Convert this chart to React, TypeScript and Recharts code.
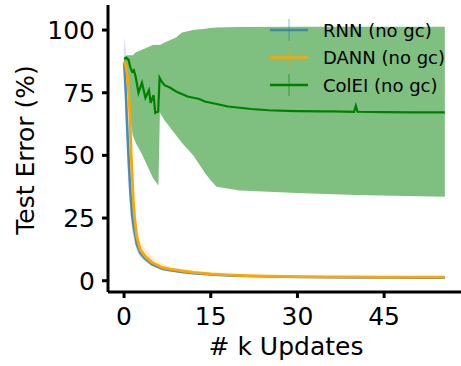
import { ComposedChart, Area, Line, XAxis, YAxis, Label } from 'recharts';

// RNN (no gc)
const rnnX = [0, 0.1, 0.3, 0.5, 0.8, 1.1, 1.4, 1.7, 2.2, 2.8, 3.7, 4.8, 6.6, 8, 10, 12, 15, 18, 21, 25, 30, 35, 40, 45, 50, 55.5];
const rnnMean = [87, 83, 75, 63, 48, 35, 26, 21, 14.5, 11, 8.7, 6.6, 4.8, 4.2, 3.5, 3.0, 2.5, 2.1, 1.85, 1.65, 1.5, 1.4, 1.3, 1.25, 1.2, 1.2];
const rnnLow = [84, 76, 64, 50, 36, 26, 20, 16.5, 12, 9.3, 7.5, 5.8, 4.2, 3.7, 3.1, 2.6, 2.2, 1.8, 1.6, 1.4, 1.25, 1.15, 1.05, 1.0, 0.95, 0.95];
const rnnHigh = [93, 97, 92, 80, 64, 48, 35, 27, 18, 13.5, 10.5, 8, 5.8, 5.0, 4.2, 3.6, 3.0, 2.5, 2.2, 2.0, 1.8, 1.7, 1.6, 1.55, 1.5, 1.5];

// DANN (no gc)
const dannX = [0, 0.25, 0.5, 0.75, 1, 1.2, 1.4, 1.6, 1.8, 2.2, 2.8, 3.7, 4.8, 6.6, 8, 10, 12, 15, 18, 21, 25, 30, 35, 40, 45, 50, 55.5];
const dannMean = [87.5, 86, 83, 77, 67, 52, 42, 32, 25.5, 17.5, 12.3, 9.5, 7.3, 5.3, 4.6, 3.9, 3.3, 2.7, 2.3, 2.0, 1.8, 1.65, 1.55, 1.5, 1.45, 1.4, 1.4];
const dannLow = [85, 83, 78, 70, 58, 44, 35, 26, 21, 14.5, 10.3, 8, 6.2, 4.6, 4.0, 3.4, 2.9, 2.35, 2.0, 1.75, 1.55, 1.4, 1.3, 1.25, 1.2, 1.15, 1.15];
const dannHigh = [90, 89, 87, 83, 75, 61, 50, 39, 31, 22, 16, 12.5, 9.5, 6.8, 5.8, 4.8, 4.0, 3.2, 2.7, 2.4, 2.2, 2.0, 1.9, 1.8, 1.75, 1.7, 1.7];

// ColEI (no gc)
const colX = [0, 0.4, 0.8, 1.1, 1.4, 1.7, 2.0, 2.5, 3.1, 3.7, 4.3, 4.6, 5.1, 5.4, 5.9, 6.15, 6.5, 7, 8, 9, 10, 11, 12, 13, 14, 16, 18, 20, 22, 25, 28, 30, 34, 36, 39.8, 40.1, 40.4, 45, 50, 55.5];
const colMean = [88.5, 89, 88, 85, 83.4, 84, 81.4, 75, 79, 73, 76, 71, 74, 67, 67.5, 81, 79.5, 78, 77, 75.5, 74.5, 73.5, 73, 72.5, 71.5, 70.5, 69.5, 69, 68.5, 68, 67.8, 67.7, 67.6, 67.6, 67.4, 69.8, 67.4, 67.3, 67.2, 67.2];
const colBandX = [0, 0.5, 1, 1.5, 2, 3, 4, 5, 5.95, 6.2, 7, 8, 9, 10, 12, 14, 15, 16, 20, 30, 40, 55.5];
const colLow = [88, 80, 66, 58, 55, 51, 46, 41, 38, 67, 64, 61, 58, 55, 50, 43, 40, 37.5, 36, 35, 34.2, 33.5];
const colHigh = [89, 90, 90, 90, 91, 92, 93, 94, 94, 94, 95, 96, 97, 99, 100, 100.5, 100.8, 101, 101.2, 101.3, 101.3, 101.3];

const xTicks = [0, 15, 30, 45];
const yTicks = [0, 25, 50, 75, 100];

const legendItems = [
    { name: 'RNN (no gc)', color: '#1f77b4', opacity: 0.7, bar: 'rgba(31,119,180,0.25)' },
    { name: 'DANN (no gc)', color: 'orange', opacity: 1, bar: 'rgba(255,165,0,0.25)' },
    { name: 'ColEI (no gc)', color: 'green', opacity: 1, bar: 'rgba(0,128,0,0.3)' },
];

const line = (xs: number[], ys: number[]) => xs.map((x, i) => ({ x, y: ys[i] }));
const band = (xs: number[], lo: number[], hi: number[]) => xs.map((x, i) => ({ x, range: [lo[i], hi[i]] }));

const font = 'DejaVu Sans';
const tickStyle = { fill: '#000', fontSize: 25, fontFamily: font };

export default function App() {
    return (
        <div style={{ position: 'absolute', left: 0, top: 0, width: 461, height: 366, background: '#fff' }}>
            <ComposedChart width={461} height={366} margin={{ top: 5, right: 0, left: 0, bottom: 0 }}>
                <XAxis
                    type="number"
                    dataKey="x"
                    domain={[-2.78, 58.3]}
                    ticks={xTicks}
                    allowDataOverflow
                    height={74}
                    tickSize={6}
                    tickMargin={9}
                    tick={tickStyle}
                    tickLine={{ stroke: '#000', strokeWidth: 3 }}
                    axisLine={{ stroke: '#000', strokeWidth: 3 }}
                >
                    <Label
                        content={() => (
                            <text x={286} y={346} textAnchor="middle" dominantBaseline="central" fontSize={25} fontFamily={font} fill="#000">
                                # k Updates
                            </text>
                        )}
                    />
                </XAxis>
                <YAxis
                    type="number"
                    domain={[-4.5, 110]}
                    ticks={yTicks}
                    allowDataOverflow
                    width={108}
                    tickSize={6}
                    tickMargin={7}
                    tick={tickStyle}
                    tickLine={{ stroke: '#000', strokeWidth: 3 }}
                    axisLine={{ stroke: '#000', strokeWidth: 3 }}
                >
                    <Label
                        content={() => (
                            <text x={25} y={150} transform="rotate(-90 25 150)" textAnchor="middle" dominantBaseline="central" fontSize={25} fontFamily={font} fill="#000">
                                Test Error (%)
                            </text>
                        )}
                    />
                </YAxis>
                <Area data={band(rnnX, rnnLow, rnnHigh)} dataKey="range" type="linear" stroke="none" fill="#1f77b4" fillOpacity={0.22} isAnimationActive={false} />
                <Line data={line(rnnX, rnnMean)} dataKey="y" type="linear" stroke="#1f77b4" strokeOpacity={0.8} strokeWidth={2.5} dot={false} isAnimationActive={false} />
                <Area data={band(dannX, dannLow, dannHigh)} dataKey="range" type="linear" stroke="none" fill="orange" fillOpacity={0.2} isAnimationActive={false} />
                <Line data={line(dannX, dannMean)} dataKey="y" type="linear" stroke="orange" strokeWidth={2.8} dot={false} isAnimationActive={false} />
                <Area data={band(colBandX, colLow, colHigh)} dataKey="range" type="linear" stroke="none" fill="green" fillOpacity={0.5} isAnimationActive={false} />
                <Line data={line(colX, colMean)} dataKey="y" type="linear" stroke="green" strokeWidth={2.2} dot={false} isAnimationActive={false} />
            </ComposedChart>
            <svg width={461} height={366} style={{ position: 'absolute', left: 0, top: 0, pointerEvents: 'none' }}>
                {legendItems.map((it, i) => {
                    const y = 30 + i * 27.5;
                    return (
                        <g key={it.name}>
                            <line x1={289} x2={289} y1={y - 11} y2={y + 11} stroke={it.bar} strokeWidth={2} />
                            <line x1={270} x2={308} y1={y} y2={y} stroke={it.color} strokeOpacity={it.opacity} strokeWidth={2.5} />
                            <text x={323} y={y} dominantBaseline="central" fontSize={18} fontFamily={font} fill="#000">
                                {it.name}
                            </text>
                        </g>
                    );
                })}
            </svg>
        </div>
    );
}
